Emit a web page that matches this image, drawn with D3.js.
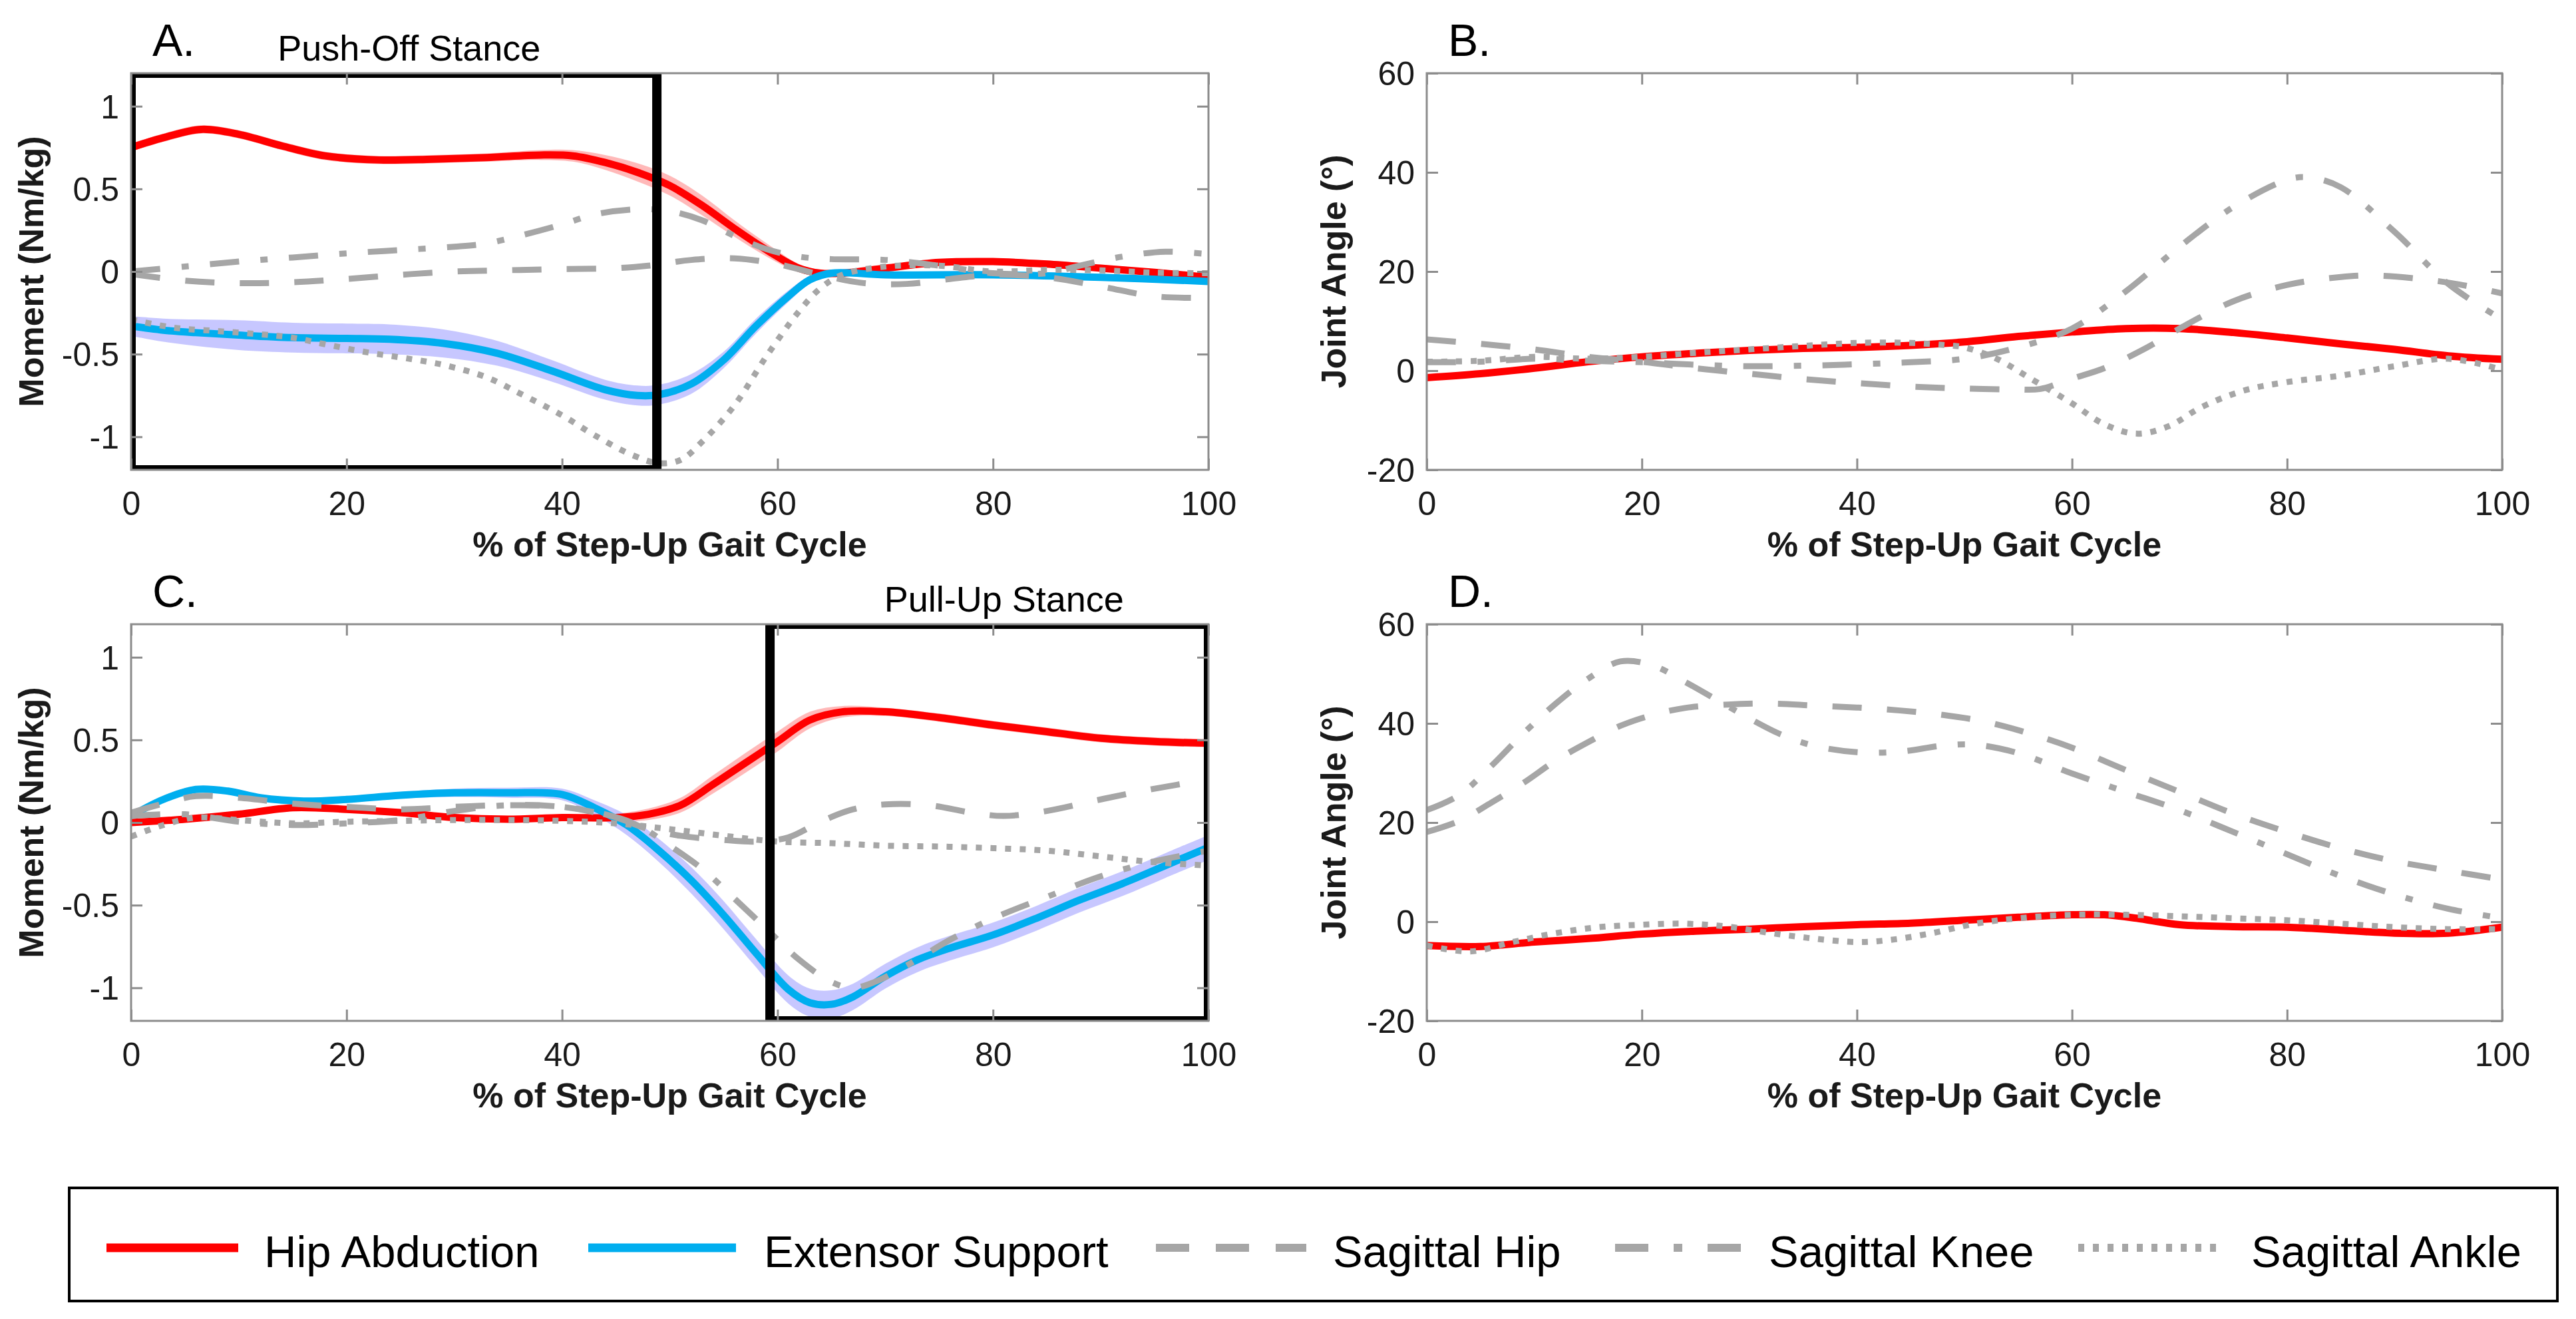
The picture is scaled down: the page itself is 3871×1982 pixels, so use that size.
<!DOCTYPE html>
<html>
<head>
<meta charset="utf-8">
<script src="https://cdn.jsdelivr.net/npm/d3@7"></script>
<style>
body{margin:0;background:#fff}
svg{display:block}
text{font-family:'Liberation Sans',Arial,Helvetica,sans-serif}
</style>
</head>
<body>
<svg id="chart" width="3871" height="1982"></svg>
<script>
// ---------------- DATA ----------------
const xTicks = [0, 20, 40, 60, 80, 100];
const momentTicks = [-1, -0.5, 0, 0.5, 1];
const angleTicks = [-20, 0, 20, 40, 60];
const seriesNames = ['Hip Abduction', 'Extensor Support', 'Sagittal Hip', 'Sagittal Knee', 'Sagittal Ankle'];
const panelLetters = ['A.', 'B.', 'C.', 'D.'];
const stanceLabels = ['Push-Off Stance', 'Pull-Up Stance'];
const stanceWindows = [[0, 48.8], [59.3, 100]];

// [% gait cycle, mean, sd]
const A_hipAbduction = [[0,0.75,.025],[3,0.81,.025],[6.5,0.86,.025],[10,0.83,.025],[14,0.76,.025],[18,0.70,.025],[23,0.675,.025],[28,0.68,.025],[33,0.69,.025],[38,0.705,.03],[41,0.70,.035],[44,0.66,.045],[47,0.60,.055],[50,0.52,.06],[53,0.40,.06],[56,0.26,.05],[59,0.13,.04],[62,0.02,.025],[64,-0.01,.02],[66,-0.01,.02],[70,0.02,.02],[75,0.055,.02],[80,0.06,.02],[85,0.045,.02],[90,0.02,.02],[95,-0.005,.02],[100,-0.035,.02]];
const A_extensorSupport = [[0,-0.33,.06],[3,-0.355,.07],[6,-0.37,.08],[10,-0.385,.09],[15,-0.40,.09],[20,-0.405,.09],[24,-0.41,.09],[29,-0.435,.085],[34,-0.495,.075],[39,-0.60,.065],[44,-0.715,.06],[47,-0.75,.06],[49,-0.745,.06],[52,-0.68,.06],[55,-0.535,.05],[58,-0.33,.045],[61,-0.15,.035],[63,-0.05,.025],[65,-0.01,.02],[70,-0.02,.02],[80,-0.02,.02],[90,-0.035,.02],[100,-0.06,.02]];
const A_sagittalHip = [[0,-0.015],[5,-0.055],[10,-0.07],[15,-0.065],[20,-0.045],[25,-0.02],[30,0.0],[35,0.008],[40,0.015],[45,0.02],[48,0.035],[52,0.07],[56,0.08],[60,0.045],[64,-0.02],[68,-0.07],[72,-0.075],[76,-0.045],[80,-0.02],[85,-0.035],[90,-0.09],[95,-0.15],[100,-0.16]];
const A_sagittalKnee = [[0,0.0],[5,0.03],[10,0.06],[15,0.085],[20,0.11],[25,0.13],[30,0.15],[33,0.17],[36,0.215],[40,0.285],[43,0.345],[47,0.377],[50,0.365],[53,0.31],[56,0.215],[59,0.135],[62,0.09],[65,0.075],[70,0.07],[75,0.035],[80,-0.01],[85,-0.01],[88,0.035],[92,0.09],[96,0.12],[100,0.105]];
const A_sagittalAnkle = [[0,-0.29],[4,-0.34],[8,-0.36],[12,-0.38],[15,-0.40],[18,-0.44],[22,-0.49],[26,-0.53],[29,-0.565],[33,-0.64],[36,-0.735],[40,-0.87],[43,-0.99],[46.5,-1.11],[49,-1.16],[51,-1.14],[53,-1.03],[56,-0.81],[59,-0.51],[62,-0.24],[64,-0.10],[66,-0.02],[70,0.03],[75,0.035],[80,0.0],[85,0.01],[90,0.007],[95,-0.007],[100,-0.01]];

const B_hipAbduction = [[0,-1.4,.5],[5,-0.6,.5],[10,0.5,.5],[15,1.8,.5],[20,2.8,.5],[25,3.5,.5],[30,4.1,.5],[35,4.5,.5],[40,4.7,.5],[45,5.1,.5],[50,5.8,.5],[55,6.9,.5],[60,7.8,.5],[65,8.5,.5],[70,8.5,.5],[75,7.7,.5],[80,6.6,.5],[85,5.4,.5],[90,4.3,.5],[95,3.0,.5],[100,2.3,.5]];
const B_sagittalHip = [[0,6.3],[5,5.4],[10,4.3],[15,2.8],[20,1.8],[25,0.5],[30,-0.6],[35,-1.7],[40,-2.5],[45,-3.2],[50,-3.6],[55,-3.8],[57,-3.7],[60,-1.6],[63,0.5],[67,4.7],[70,8.5],[75,14.0],[80,17.3],[85,18.9],[88,19.2],[92,18.6],[96,17.4],[100,15.6]];
const B_sagittalKnee = [[0,1.7],[5,1.8],[10,2.4],[15,2.0],[20,1.7],[25,1.2],[30,0.9],[35,1.0],[40,1.3],[45,1.7],[50,2.4],[55,4.7],[60,8.5],[65,16],[70,25],[75,33],[80,38.5],[82,39],[85,37],[90,28],[95,17.5],[100,10.3]];
const B_sagittalAnkle = [[0,1.8],[5,2.0],[10,2.8],[15,2.4],[20,2.8],[25,3.6],[30,4.3],[35,5.0],[40,5.6],[45,5.6],[48,5.2],[50,4.7],[53,2.4],[56,-1.4],[60,-6.6],[63,-10.8],[66,-12.7],[69,-11.2],[72,-7.4],[76,-4.0],[80,-2.3],[85,-1.0],[90,0.9],[95,2.4],[100,0.2]];

const C_hipAbduction = [[0,0.0,.02],[5,0.02,.02],[10,0.05,.02],[15,0.09,.02],[20,0.08,.02],[25,0.06,.02],[30,0.03,.02],[35,0.02,.02],[40,0.03,.02],[45,0.03,.025],[48,0.05,.035],[51,0.105,.045],[54,0.23,.055],[57,0.36,.06],[60,0.49,.06],[63,0.62,.05],[66,0.67,.035],[70,0.67,.025],[75,0.635,.025],[80,0.59,.025],[85,0.55,.025],[90,0.51,.025],[95,0.49,.025],[100,0.48,.025]];
const C_extensorSupport = [[0,0.04,.02],[3,0.14,.02],[6,0.2,.02],[9,0.19,.02],[12,0.15,.02],[16,0.13,.02],[20,0.14,.02],[25,0.165,.02],[30,0.18,.025],[35,0.18,.03],[40,0.17,.035],[43,0.09,.045],[46,-0.015,.06],[49,-0.17,.07],[52,-0.35,.08],[55,-0.56,.085],[58,-0.79,.085],[61,-1.01,.085],[63,-1.09,.085],[65,-1.10,.085],[67,-1.055,.08],[70,-0.93,.075],[73,-0.83,.075],[76,-0.76,.075],[80,-0.68,.075],[84,-0.58,.075],[88,-0.47,.075],[92,-0.37,.075],[96,-0.26,.075],[100,-0.15,.075]];
const C_sagittalHip = [[0,0.06],[3,0.115],[6,0.16],[10,0.15],[15,0.115],[20,0.095],[25,0.08],[30,0.095],[35,0.105],[40,0.095],[45,0.03],[48,-0.04],[51,-0.08],[55,-0.105],[58,-0.115],[61,-0.09],[64,0.005],[67,0.08],[70,0.11],[74,0.105],[78,0.06],[81,0.04],[85,0.07],[90,0.14],[95,0.205],[100,0.26]];
const C_sagittalKnee = [[0,0.04],[5,0.05],[10,0.005],[15,-0.015],[20,-0.005],[25,0.015],[30,0.07],[35,0.105],[40,0.095],[44,0.05],[47,-0.015],[50,-0.14],[53,-0.28],[56,-0.46],[59,-0.645],[62,-0.83],[65,-0.965],[67,-1.0],[69,-0.965],[72,-0.865],[76,-0.71],[80,-0.58],[85,-0.45],[90,-0.325],[95,-0.235],[100,-0.17]];
const C_sagittalAnkle = [[0,-0.085],[3,-0.015],[6,0.03],[10,0.015],[15,-0.005],[20,0.005],[25,0.01],[30,0.015],[35,0.015],[40,0.01],[45,-0.005],[50,-0.04],[55,-0.08],[60,-0.115],[65,-0.125],[70,-0.14],[75,-0.145],[80,-0.155],[85,-0.17],[90,-0.205],[95,-0.24],[100,-0.26]];

const D_hipAbduction = [[0,-4.8,.5],[5,-5.0,.5],[10,-4.1,.5],[15,-3.4,.5],[20,-2.5,.5],[25,-1.9,.5],[30,-1.5,.5],[35,-1.0,.5],[40,-0.6,.5],[45,-0.3,.5],[50,0.3,.5],[55,0.9,.5],[60,1.4,.5],[63,1.4,.5],[66,0.7,.5],[70,-0.6,.5],[75,-1.0,.5],[80,-1.1,.5],[85,-1.7,.5],[90,-2.3,.5],[95,-2.3,.5],[100,-1.1,.5]];
const D_sagittalHip = [[0,18.1],[3,20.3],[6,24],[9,28],[12,32.5],[15,36.2],[18,39.5],[21,41.7],[24,43.1],[28,43.8],[32,44],[36,43.6],[40,43.2],[44,42.6],[48,41.7],[52,40.3],[56,38],[60,35.1],[65,30.6],[70,26.2],[75,21.8],[80,18.1],[85,14.8],[90,12.2],[95,10.3],[100,8.5]];
const D_sagittalKnee = [[0,22.5],[3,25.5],[6,31.4],[9,38],[12,44],[15,49],[18,52.5],[21,51.7],[24,48.4],[27,44.7],[30,41],[33,37.7],[36,35.5],[40,34.2],[44,34.3],[48,35.5],[51,35.7],[55,34],[60,29.9],[65,26.2],[70,22.5],[75,18.1],[80,13.6],[85,9.2],[90,5.5],[95,2.6],[100,0.7]];
const D_sagittalAnkle = [[0,-4.8],[4,-6.0],[8,-4.1],[12,-2.3],[16,-1.1],[20,-0.6],[24,-0.4],[28,-1.0],[32,-2.3],[36,-3.4],[40,-4.1],[43,-3.7],[47,-2.3],[51,-0.4],[55,0.7],[60,1.4],[65,1.4],[70,1.1],[75,0.7],[80,0.3],[85,-0.4],[90,-1.1],[95,-1.5],[100,-1.5]];

// ---------------- LAYOUT & STYLE ----------------
const FONT_TICK = 50, FONT_LABEL = 52, FONT_LETTER = 68, FONT_STANCE = 54, FONT_LEGEND = 67;
const RED = '#FF0000', BLUE = '#00AEEF', GRAY = '#A6A6A6', AXIS = '#8C8C8C';
const styles = {
  hipAbd: {stroke: RED, width: 11, dash: null, band: '#FFA8A8'},
  ext:    {stroke: BLUE, width: 11, dash: null, band: '#B9B9FF'},
  hip:    {stroke: GRAY, width: 9, dash: '44,38'},
  knee:   {stroke: GRAY, width: 9, dash: '44,32,11,32'},
  ankle:  {stroke: GRAY, width: 9, dash: '9,13'}
};

const panels = [
  {letter: panelLetters[0], left:197, right:1816, top:110, bottom:706, yDomain:[-1.2,1.2], yTicks:momentTicks, yLabel:'Moment (Nm/kg)', yLabelX:65,
   series:{hipAbd:A_hipAbduction, ext:A_extensorSupport, hip:A_sagittalHip, knee:A_sagittalKnee, ankle:A_sagittalAnkle},
   stance:{label:stanceLabels[0], win:stanceWindows[0], labelAt:13.6}},
  {letter: panelLetters[1], left:2144, right:3760, top:110, bottom:706, yDomain:[-20,60], yTicks:angleTicks, yLabel:'Joint Angle (°)', yLabelX:2022,
   series:{hipAbd:B_hipAbduction, hip:B_sagittalHip, knee:B_sagittalKnee, ankle:B_sagittalAnkle}},
  {letter: panelLetters[2], left:197, right:1816, top:938, bottom:1534, yDomain:[-1.2,1.2], yTicks:momentTicks, yLabel:'Moment (Nm/kg)', yLabelX:65,
   series:{hipAbd:C_hipAbduction, ext:C_extensorSupport, hip:C_sagittalHip, knee:C_sagittalKnee, ankle:C_sagittalAnkle},
   stance:{label:stanceLabels[1], win:stanceWindows[1], labelAt:69.9}},
  {letter: panelLetters[3], left:2144, right:3760, top:938, bottom:1534, yDomain:[-20,60], yTicks:angleTicks, yLabel:'Joint Angle (°)', yLabelX:2022,
   series:{hipAbd:D_hipAbduction, hip:D_sagittalHip, knee:D_sagittalKnee, ankle:D_sagittalAnkle}}
];

const svg = d3.select('#chart');
svg.append('rect').attr('width', 3871).attr('height', 1982).attr('fill', '#fff');
const defs = svg.append('defs');

panels.forEach((p, i) => {
  const x = d3.scaleLinear().domain([0, 100]).range([p.left, p.right]);
  const y = d3.scaleLinear().domain(p.yDomain).range([p.bottom, p.top]);
  const clipId = 'clip' + i;
  defs.append('clipPath').attr('id', clipId).append('rect')
    .attr('x', p.left).attr('y', p.top).attr('width', p.right - p.left).attr('height', p.bottom - p.top);

  const g = svg.append('g');
  const plot = g.append('g').attr('clip-path', `url(#${clipId})`);
  const curve = d3.curveCatmullRom.alpha(0.5);
  const line = d3.line().x(d => x(d[0])).y(d => y(d[1])).curve(curve);
  const area = d3.area().x(d => x(d[0])).y0(d => y(d[1] - d[2])).y1(d => y(d[1] + d[2])).curve(curve);

  ['hipAbd', 'ext'].forEach(k => {
    if (!p.series[k]) return;
    plot.append('path').datum(p.series[k]).attr('d', area)
      .attr('fill', styles[k].band).attr('opacity', 0.8);
  });
  ['hipAbd', 'ext', 'hip', 'knee', 'ankle'].forEach(k => {
    if (!p.series[k]) return;
    const s = styles[k];
    const path = plot.append('path').datum(p.series[k]).attr('d', line)
      .attr('fill', 'none').attr('stroke', s.stroke).attr('stroke-width', s.width)
      .attr('stroke-linejoin', 'round');
    if (s.dash) path.attr('stroke-dasharray', s.dash).attr('stroke-linecap', 'butt');
  });

  g.append('rect').attr('x', p.left).attr('y', p.top).attr('width', p.right - p.left).attr('height', p.bottom - p.top)
    .attr('fill', 'none').attr('stroke', AXIS).attr('stroke-width', 3);

  const fmt = d => String(d);
  const styleAxis = sel => {
    sel.attr('color', AXIS);
    sel.select('.domain').remove();
    sel.selectAll('.tick line').attr('stroke-width', 3);
    sel.selectAll('.tick text').attr('fill', '#1a1a1a').attr('font-size', FONT_TICK)
      .style('font-family', "'Liberation Sans',Arial,Helvetica,sans-serif");
  };
  const TL = 17;
  g.append('g').attr('transform', `translate(0,${p.bottom})`)
    .call(d3.axisBottom(x).tickValues(xTicks).tickSize(-TL).tickSizeOuter(0).tickFormat(fmt))
    .call(styleAxis)
    .call(s => s.selectAll('.tick text').attr('y', 68).attr('dy', 0));
  g.append('g').attr('transform', `translate(0,${p.top})`)
    .call(d3.axisTop(x).tickValues(xTicks).tickSize(-TL).tickSizeOuter(0).tickFormat(''))
    .call(styleAxis);
  g.append('g').attr('transform', `translate(${p.left},0)`)
    .call(d3.axisLeft(y).tickValues(p.yTicks).tickSize(-TL).tickSizeOuter(0).tickPadding(18).tickFormat(fmt))
    .call(styleAxis)
    .call(s => s.selectAll('.tick text').attr('x', -18).attr('dy', '0.35em'));
  g.append('g').attr('transform', `translate(${p.right},0)`)
    .call(d3.axisRight(y).tickValues(p.yTicks).tickSize(-TL).tickSizeOuter(0).tickFormat(''))
    .call(styleAxis);

  if (p.stance) {
    const [a, b] = p.stance.win;
    plot.append('rect')
      .attr('x', x(a)).attr('y', y(p.yDomain[1]))
      .attr('width', x(b) - x(a)).attr('height', y(p.yDomain[0]) - y(p.yDomain[1]))
      .attr('fill', 'none').attr('stroke', '#000').attr('stroke-width', 14);
    g.append('text').attr('x', x(p.stance.labelAt)).attr('y', p.top - 19)
      .attr('font-size', FONT_STANCE).attr('fill', '#000').text(p.stance.label);
  }

  g.append('text').attr('x', (p.left + p.right) / 2).attr('y', p.bottom + 130)
    .attr('text-anchor', 'middle').attr('font-size', FONT_LABEL).attr('font-weight', 'bold')
    .attr('fill', '#1a1a1a').text('% of Step-Up Gait Cycle');
  g.append('text').attr('transform', `translate(${p.yLabelX},${(p.top + p.bottom) / 2}) rotate(-90)`)
    .attr('text-anchor', 'middle').attr('font-size', FONT_LABEL).attr('font-weight', 'bold')
    .attr('fill', '#1a1a1a').text(p.yLabel);
  g.append('text').attr('x', p.left + 32).attr('y', p.top - 26)
    .attr('font-size', FONT_LETTER).attr('fill', '#000').text(p.letter);
});

// ---------------- LEGEND ----------------
const legendKeys = ['hipAbd', 'ext', 'hip', 'knee', 'ankle'];
const legendPos = [[160, 358, 397], [884, 1106, 1148], [1737, 1963, 2003], [2427, 2617, 2658], [3123, 3338, 3383]];
const legendDash = {hip: '50,40', knee: '50,38,13,38', ankle: '9,13'};
const leg = svg.append('g');
leg.append('rect').attr('x', 104).attr('y', 1785).attr('width', 3843 - 104).attr('height', 1955 - 1785)
  .attr('fill', '#fff').attr('stroke', '#000').attr('stroke-width', 4);
legendKeys.forEach((k, i) => {
  const [x0, x1, tx] = legendPos[i];
  const s = styles[k];
  const l = leg.append('line').attr('x1', x0).attr('x2', x1).attr('y1', 1875).attr('y2', 1875)
    .attr('stroke', s.stroke).attr('stroke-width', s.dash ? 12 : 13);
  if (legendDash[k]) l.attr('stroke-dasharray', legendDash[k]);
  leg.append('text').attr('x', tx).attr('y', 1904).attr('font-size', FONT_LEGEND).attr('fill', '#000')
    .text(seriesNames[i]);
});
</script>
</body>
</html>
